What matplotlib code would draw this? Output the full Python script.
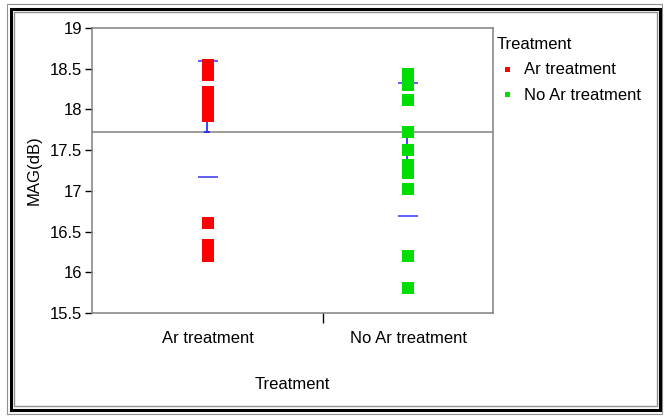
import matplotlib
matplotlib.use("Agg")
import matplotlib.pyplot as plt
from matplotlib.patches import Rectangle

plt.rcParams["font.family"] = ["Liberation Sans", "DejaVu Sans"]

# MAG(dB) per device, grouped by treatment
groups = ["Ar treatment", "No Ar treatment"]
ar_mag = [18.55, 18.50, 18.45, 18.42, 18.22, 18.18, 18.12, 18.08, 18.02,
          17.96, 17.92, 16.61, 16.33, 16.27, 16.20]
no_ar_mag = [18.43, 18.38, 18.30, 18.11, 17.72, 17.50, 17.32, 17.22, 17.02,
             16.20, 15.81]
group_colors = ["#ff0000", "#00dd00"]

# summary marks: std dev lines and mean error bars
std_hi = [18.60, 18.33]
std_lo = [17.17, 16.69]
err_hi = [18.05, 17.68]
err_lo = [17.72, 17.36]
grand_mean = 17.72

yticks = [15.5, 16, 16.5, 17, 17.5, 18, 18.5, 19]

W, H = 664, 417
fig = plt.figure(figsize=(W / 100, H / 100), dpi=100)
ax = fig.add_axes([92 / W, 1 - 313 / H, (493 - 92) / W, (313 - 28) / H])

# category widths proportional to group size
data = [ar_mag, no_ar_mag]
counts = [len(d) for d in data]
edges = [0, counts[0], counts[0] + counts[1]]
centers = [(edges[i] + edges[i + 1]) / 2 for i in range(2)]
half = 0.65

for i, vals in enumerate(data):
    c = centers[i]
    ax.hlines([std_hi[i], std_lo[i]], c - half, c + half, color="#4444ff",
              lw=1.2, zorder=2)
    ax.vlines(c - 0.05, err_lo[i], err_hi[i], color="#2222ff", lw=1.2, zorder=2)
    ax.hlines([err_lo[i], err_hi[i]], c - 0.25, c + 0.15, color="#2222ff",
              lw=1.2, zorder=2)
    ax.plot([c] * len(vals), vals, "s", color=group_colors[i], ms=8,
            mew=0, zorder=3, label=groups[i])

ax.axhline(grand_mean, color="#808080", lw=1.1, zorder=1)

ax.set_xlim(edges[0], edges[-1])
ax.set_ylim(15.5, 19)
ax.set_yticks(yticks)
ax.set_yticklabels([f"{t:g}" for t in yticks])
ax.set_xticks([edges[1]])
ax.set_xticklabels([""])
ax.set_xticks(centers, minor=True)
ax.set_xticklabels(groups, minor=True)
ax.tick_params(axis="y", length=5, width=1, color="black", pad=2, labelsize=12)
ax.tick_params(axis="x", which="major", length=7, width=1, color="black")
ax.tick_params(axis="x", which="minor", length=0, pad=13, labelsize=12)
for s in ax.spines.values():
    s.set_color("#808080")
    s.set_linewidth(1.1)

ax.set_ylabel("MAG(dB)", fontsize=12)
ax.yaxis.set_label_coords(-0.125, 0.5)
ax.set_xlabel("Treatment", fontsize=12)
ax.xaxis.set_label_coords(0.5, -0.225)

leg = ax.legend(title="Treatment", loc="upper left",
                bbox_to_anchor=(497 / W, 1 - 37 / H),
                bbox_transform=fig.transFigure, frameon=False,
                fontsize=12, title_fontsize=12, markerscale=0.45,
                handlelength=1.2, handletextpad=0.4, labelspacing=0.63,
                borderpad=0, borderaxespad=0, alignment="left")

# double frame around the whole figure
def frame(x0, y0, x1, y1, color, lw):
    fig.patches.append(Rectangle((x0 / W, 1 - y1 / H), (x1 - x0) / W,
                                 (y1 - y0) / H, transform=fig.transFigure,
                                 fill=False, edgecolor=color, lw=lw))

frame(7, 4, 662, 414, "#909090", 0.8)
frame(11, 8.5, 659.5, 410, "black", 2.2)
frame(14, 12, 656.5, 405.5, "#909090", 1.0)

fig.savefig("out.png", dpi=100)
